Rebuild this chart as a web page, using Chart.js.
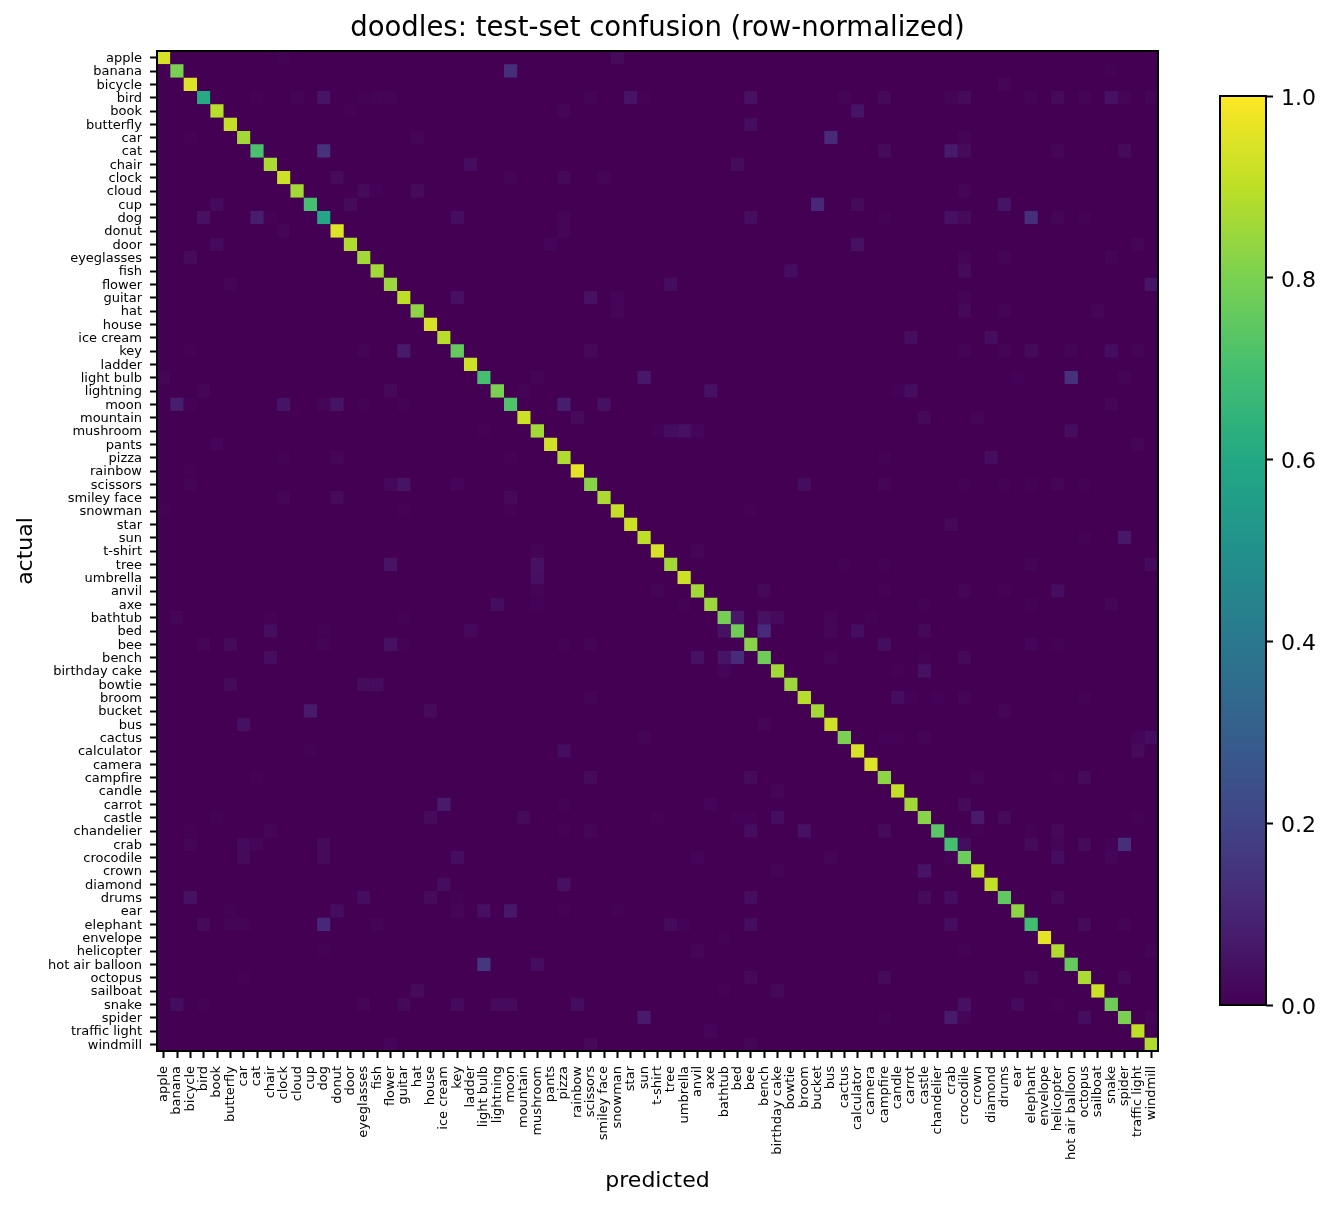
<!DOCTYPE html>
<html>
<head>
<meta charset="utf-8">
<title>doodles confusion</title>
<script src="https://cdn.jsdelivr.net/npm/chart.js@4"></script>
<style>
  html, body { margin: 0; padding: 0; background: #fff; }
  canvas { position: absolute; display: block; }
  #matrix { left: 0; top: 0; }
  #colorbar { left: 1200px; top: 70px; }
</style>
</head>
<body>
<canvas id="matrix" width="1332" height="1208"></canvas>
<canvas id="colorbar" width="132" height="960"></canvas>
<script>
const categories = [
  'apple', 'banana', 'bicycle', 'bird', 'book', 'butterfly', 'car', 'cat', 'chair', 'clock',
  'cloud', 'cup', 'dog', 'donut', 'door', 'eyeglasses', 'fish', 'flower', 'guitar', 'hat',
  'house', 'ice cream', 'key', 'ladder', 'light bulb', 'lightning', 'moon', 'mountain', 'mushroom', 'pants',
  'pizza', 'rainbow', 'scissors', 'smiley face', 'snowman', 'star', 'sun', 't-shirt', 'tree', 'umbrella',
  'anvil', 'axe', 'bathtub', 'bed', 'bee', 'bench', 'birthday cake', 'bowtie', 'broom', 'bucket',
  'bus', 'cactus', 'calculator', 'camera', 'campfire', 'candle', 'carrot', 'castle', 'chandelier', 'crab',
  'crocodile', 'crown', 'diamond', 'drums', 'ear', 'elephant', 'envelope', 'helicopter', 'hot air balloon', 'octopus',
  'sailboat', 'snake', 'spider', 'traffic light', 'windmill',
];

// share of each class predicted correctly, same order as categories
const diagonal = [
  0.94, 0.80, 0.95, 0.61, 0.89, 0.91, 0.86, 0.71, 0.87, 0.92,
  0.86, 0.70, 0.59, 0.95, 0.88, 0.86, 0.86, 0.85, 0.90, 0.83,
  0.94, 0.89, 0.76, 0.92, 0.70, 0.80, 0.72, 0.92, 0.86, 0.93,
  0.88, 0.96, 0.82, 0.87, 0.91, 0.92, 0.90, 0.94, 0.86, 0.92,
  0.86, 0.85, 0.79, 0.78, 0.82, 0.78, 0.86, 0.85, 0.89, 0.86,
  0.93, 0.80, 0.94, 0.95, 0.83, 0.91, 0.86, 0.82, 0.74, 0.70,
  0.77, 0.90, 0.91, 0.75, 0.83, 0.69, 0.96, 0.88, 0.76, 0.87,
  0.92, 0.78, 0.80, 0.90, 0.88,
];

// visible mistakes: [actual index, predicted index, share]
const mistakes = [
  [0, 9, .005], [0, 34, .025],
  [1, 26, .13], [1, 71, .005],
  [2, 63, .015],
  [3, 7, .005], [3, 10, .01], [3, 12, .05], [3, 15, .005], [3, 16, .01], [3, 17, .01], [3, 32, .01], [3, 35, .055], [3, 36, .005], [3, 44, .045],
  [3, 51, .01], [3, 54, .02], [3, 59, .01], [3, 60, .025], [3, 65, .01], [3, 67, .025], [3, 69, .01], [3, 71, .045], [3, 72, .015], [3, 74, .01],
  [4, 14, .005], [4, 30, .015], [4, 52, .055],
  [5, 44, .035],
  [6, 2, .005], [6, 19, .015], [6, 50, .12], [6, 60, .01],
  [7, 12, .14], [7, 54, .025], [7, 59, .07], [7, 60, .025], [7, 67, .015], [7, 72, .025],
  [8, 23, .035], [8, 43, .03],
  [9, 13, .025], [9, 26, .01], [9, 30, .02], [9, 33, .015],
  [10, 15, .025], [10, 16, .005], [10, 19, .025], [10, 60, .015],
  [11, 4, .025], [11, 14, .025], [11, 49, .11], [11, 52, .025], [11, 63, .055],
  [12, 3, .045], [12, 7, .08], [12, 8, .005], [12, 22, .035], [12, 30, .015], [12, 44, .035], [12, 54, .005], [12, 59, .045], [12, 60, .025], [12, 65, .13], [12, 67, .015], [12, 69, .005],
  [13, 9, .015], [13, 30, .015],
  [14, 4, .025], [14, 29, .015], [14, 52, .045], [14, 73, .015],
  [15, 2, .025], [15, 60, .015], [15, 63, .01], [15, 71, .01],
  [16, 47, .035], [16, 60, .025],
  [17, 5, .015], [17, 38, .035], [17, 74, .055],
  [18, 22, .04], [18, 32, .045], [18, 34, .015], [18, 60, .01],
  [19, 34, .015], [19, 60, .02], [19, 63, .01], [19, 70, .015],
  [21, 56, .035], [21, 62, .035],
  [22, 2, .005], [22, 15, .01], [22, 18, .07], [22, 32, .02], [22, 60, .01], [22, 63, .01], [22, 65, .025], [22, 68, .01], [22, 71, .035], [22, 73, .01],
  [24, 0, .015], [24, 28, .01], [24, 36, .065], [24, 64, .005], [24, 68, .14], [24, 72, .01],
  [25, 3, .015], [25, 17, .02], [25, 27, .01], [25, 41, .045], [25, 55, .005], [25, 56, .035],
  [26, 1, .08], [26, 2, .005], [26, 9, .055], [26, 12, .015], [26, 13, .055], [26, 15, .005], [26, 18, .005], [26, 30, .08], [26, 33, .045], [26, 71, .015],
  [27, 31, .025], [27, 57, .02], [27, 61, .015],
  [28, 24, .005], [28, 37, .005], [28, 38, .035], [28, 39, .045], [28, 40, .015], [28, 68, .035],
  [29, 4, .015], [29, 73, .015],
  [30, 9, .005], [30, 13, .015], [30, 26, .005], [30, 54, .005], [30, 62, .035],
  [31, 2, .005],
  [32, 2, .01], [32, 17, .02], [32, 18, .05], [32, 22, .015], [32, 48, .035], [32, 54, .015], [32, 60, .005], [32, 63, .005], [32, 65, .005], [32, 67, .015], [32, 69, .005],
  [33, 9, .015], [33, 13, .025], [33, 26, .02],
  [34, 0, .005], [34, 18, .005], [34, 26, .005], [34, 44, .005],
  [35, 59, .02],
  [36, 69, .005], [36, 72, .065],
  [37, 28, .01], [37, 40, .015],
  [38, 17, .05], [38, 28, .045], [38, 51, .005], [38, 54, .005], [38, 65, .01], [38, 74, .025],
  [39, 28, .04],
  [40, 28, .01], [40, 37, .01], [40, 45, .02], [40, 54, .005], [40, 60, .015], [40, 63, .005], [40, 67, .035],
  [41, 25, .035], [41, 28, .005], [41, 39, .005], [41, 57, .005], [41, 65, .005], [41, 71, .015],
  [42, 1, .015], [42, 8, .005], [42, 18, .005], [42, 43, .065], [42, 45, .045], [42, 46, .025], [42, 50, .015], [42, 53, .005],
  [43, 8, .035], [43, 12, .005], [43, 23, .02], [43, 42, .045], [43, 45, .12], [43, 50, .015], [43, 52, .035], [43, 57, .02],
  [44, 3, .015], [44, 5, .025], [44, 12, .01], [44, 17, .045], [44, 18, .005], [44, 30, .005], [44, 32, .01], [44, 54, .035], [44, 65, .015], [44, 67, .005],
  [45, 8, .035], [45, 40, .045], [45, 42, .055], [45, 43, .12], [45, 50, .015], [45, 57, .005], [45, 60, .02],
  [46, 42, .015], [46, 55, .005], [46, 57, .045],
  [47, 5, .025], [47, 15, .03], [47, 16, .03],
  [48, 32, .01], [48, 55, .035], [48, 56, .005], [48, 58, .005], [48, 60, .015], [48, 69, .005],
  [49, 11, .07], [49, 20, .025], [49, 63, .015],
  [50, 6, .045], [50, 45, .015],
  [51, 36, .01], [51, 54, .005], [51, 55, .005], [51, 57, .01], [51, 73, .015], [51, 74, .035],
  [52, 11, .005], [52, 30, .035], [52, 73, .025],
  [54, 7, .005], [54, 32, .025], [54, 44, .025], [54, 61, .015], [54, 67, .005], [54, 69, .025],
  [55, 46, .015],
  [56, 21, .07], [56, 30, .005], [56, 41, .015], [56, 60, .025],
  [57, 4, .005], [57, 20, .025], [57, 27, .025], [57, 37, .005], [57, 43, .005], [57, 44, .005], [57, 46, .035], [57, 61, .07], [57, 63, .025], [57, 73, .005],
  [58, 2, .005], [58, 8, .015], [58, 30, .005], [58, 32, .015], [58, 44, .035], [58, 48, .045], [58, 54, .025], [58, 61, .005], [58, 65, .005], [58, 67, .02],
  [59, 2, .015], [59, 6, .025], [59, 7, .015], [59, 12, .025], [59, 60, .035], [59, 65, .025], [59, 67, .015], [59, 69, .025], [59, 71, .005], [59, 72, .13],
  [60, 6, .025], [60, 12, .025], [60, 22, .035], [60, 40, .015], [60, 50, .015], [60, 59, .005], [60, 67, .035], [60, 71, .015],
  [61, 46, .01], [61, 57, .055],
  [62, 21, .035], [62, 30, .045],
  [63, 2, .045], [63, 15, .035], [63, 20, .025], [63, 22, .005], [63, 44, .035], [63, 57, .025], [63, 59, .035], [63, 67, .025],
  [64, 5, .005], [64, 13, .035], [64, 22, .015], [64, 24, .04], [64, 26, .065], [64, 30, .005], [64, 34, .005],
  [65, 3, .025], [65, 5, .01], [65, 6, .01], [65, 12, .11], [65, 16, .01], [65, 38, .025], [65, 39, .005], [65, 44, .035], [65, 59, .035], [65, 69, .025], [65, 72, .01],
  [66, 42, .005],
  [67, 12, .005], [67, 40, .015], [67, 60, .005], [67, 74, .01],
  [68, 24, .16], [68, 28, .035],
  [69, 6, .005], [69, 44, .02], [69, 54, .025], [69, 65, .025], [69, 72, .02],
  [70, 19, .025], [70, 42, .005], [70, 46, .02],
  [71, 1, .035], [71, 3, .005], [71, 15, .015], [71, 18, .02], [71, 22, .025], [71, 25, .025], [71, 26, .025], [71, 31, .035], [71, 60, .045], [71, 64, .025], [71, 67, .005],
  [72, 36, .07], [72, 54, .005], [72, 59, .07], [72, 60, .015], [72, 69, .035], [72, 74, .01],
  [73, 41, .015],
  [74, 17, .015], [74, 32, .02], [74, 44, .015],
];

const colorbarTicks = [0, 0.2, 0.4, 0.6, 0.8, 1];

const VIRIDIS = ['#440154', '#482475', '#414487', '#355f8d', '#2a788e', '#21918c', '#22a884', '#44bf70', '#7ad151', '#bddf26', '#fde725'];
const INK = '#000000';
const SPINE = 2;

Chart.defaults.font.family = '"DejaVu Sans", sans-serif';
Chart.defaults.color = INK;

function hexToRgb(hex) {
  const n = parseInt(hex.slice(1), 16);
  return [(n >> 16) & 255, (n >> 8) & 255, n & 255];
}

function viridis(value) {
  const t = Math.min(Math.max(value, 0), 1) * (VIRIDIS.length - 1);
  const i = Math.min(Math.floor(t), VIRIDIS.length - 2);
  const a = hexToRgb(VIRIDIS[i]);
  const b = hexToRgb(VIRIDIS[i + 1]);
  const f = t - i;
  const mix = a.map((c, k) => Math.round(c + (b[k] - c) * f));
  return `rgb(${mix[0]},${mix[1]},${mix[2]})`;
}

function buildCells() {
  const size = categories.length;
  const grid = categories.map(() => new Array(size).fill(0));
  categories.forEach((_, i) => { grid[i][i] = diagonal[i]; });
  mistakes.forEach(([row, col, share]) => { grid[row][col] = share; });
  const cells = [];
  categories.forEach((actual, row) => {
    categories.forEach((predicted, col) => {
      cells.push({ x: predicted, y: actual, v: grid[row][col] });
    });
  });
  return cells;
}

// canvas middle baseline sits a bit high for DejaVu, push y labels down
function nudgeLabels(scale, dy) {
  if (scale.nudged) return;
  scale.nudged = true;
  const compute = scale._computeLabelItems.bind(scale);
  scale._computeLabelItems = (area) => {
    const items = compute(area);
    items.forEach((item) => { item.options.translation[1] += dy; });
    return items;
  };
}

// stops adjacent cells from showing white hairlines between them
const plotBackdrop = {
  id: 'plotBackdrop',
  beforeDatasetsDraw(chart) {
    const { ctx, chartArea: a } = chart;
    ctx.save();
    ctx.fillStyle = VIRIDIS[0];
    ctx.fillRect(a.left, a.top, a.right - a.left, a.bottom - a.top);
    ctx.restore();
  },
};

const frame = {
  id: 'frame',
  afterDatasetsDraw(chart) {
    const { ctx, chartArea: a } = chart;
    ctx.save();
    ctx.strokeStyle = INK;
    ctx.lineWidth = SPINE;
    ctx.strokeRect(a.left, a.top, a.right - a.left, a.bottom - a.top);
    ctx.restore();
  },
};

function initMatrix() {
  const ctx = document.getElementById('matrix').getContext('2d');
  new Chart(ctx, {
    type: 'scatter',
    data: {
      datasets: [{
        data: buildCells(),
        pointStyle: 'rect',
        borderWidth: 0,
        pointBorderWidth: 0,
        pointRadius: (c) => c.chart.scales.x.width / categories.length / Math.SQRT2,
        pointHoverRadius: (c) => c.chart.scales.x.width / categories.length / Math.SQRT2,
        pointBackgroundColor: (c) => viridis(c.raw ? c.raw.v : 0),
      }],
    },
    options: {
      responsive: false,
      devicePixelRatio: 1,
      animation: false,
      events: [],
      layout: { padding: { left: 0, right: 174, top: 0, bottom: 0 } },
      plugins: {
        legend: { display: false },
        tooltip: { enabled: false },
        title: {
          display: true,
          text: 'doodles: test-set confusion (row-normalized)',
          fullSize: false,
          color: INK,
          font: { size: 27.5, weight: 'normal' },
          padding: { top: 12, bottom: 6 },
        },
      },
      scales: {
        x: {
          type: 'category',
          labels: categories,
          offset: true,
          afterFit: (scale) => { scale.height = 157; },
          grid: { offset: false, drawOnChartArea: false, drawTicks: true, tickLength: 7, tickWidth: 2, tickColor: INK },
          border: { display: false },
          ticks: { autoSkip: false, minRotation: 90, maxRotation: 90, padding: 8, font: { size: 13 }, color: INK },
          title: { display: true, text: 'predicted', color: INK, font: { size: 22 }, padding: { top: 0, bottom: 14 } },
        },
        y: {
          type: 'category',
          labels: categories,
          offset: true,
          afterFit: (scale) => {
            scale.width = 157;
            nudgeLabels(scale, 1);
          },
          grid: { offset: false, drawOnChartArea: false, drawTicks: true, tickLength: 7, tickWidth: 2, tickColor: INK },
          border: { display: false },
          ticks: { autoSkip: false, padding: 8, font: { size: 13 }, color: INK },
          title: { display: true, text: 'actual', color: INK, font: { size: 22 }, padding: { top: 13, bottom: 0 } },
        },
      },
    },
    plugins: [plotBackdrop, frame],
  });
}

function colorbarFill(context) {
  const { ctx, chartArea: a } = context.chart;
  if (!a) return VIRIDIS[0];
  const gradient = ctx.createLinearGradient(0, a.bottom, 0, a.top);
  VIRIDIS.forEach((color, i) => gradient.addColorStop(i / (VIRIDIS.length - 1), color));
  return gradient;
}

function initColorbar() {
  const ctx = document.getElementById('colorbar').getContext('2d');
  new Chart(ctx, {
    type: 'bar',
    data: {
      labels: ['share'],
      datasets: [{
        data: [[colorbarTicks[0], colorbarTicks[colorbarTicks.length - 1]]],
        backgroundColor: colorbarFill,
        borderWidth: 0,
        barPercentage: 1,
        categoryPercentage: 1,
      }],
    },
    options: {
      responsive: false,
      devicePixelRatio: 1,
      animation: false,
      events: [],
      layout: { padding: { left: 20, right: 0, top: 26, bottom: 25 } },
      plugins: { legend: { display: false }, tooltip: { enabled: false } },
      scales: {
        x: { display: false },
        y: {
          position: 'right',
          min: 0,
          max: 1,
          afterFit: (scale) => {
            scale.width = 66;
            nudgeLabels(scale, 3);
          },
          afterBuildTicks: (scale) => { scale.ticks = colorbarTicks.map((value) => ({ value })); },
          grid: { drawOnChartArea: false, drawTicks: true, tickLength: 7, tickWidth: 2, tickColor: INK },
          border: { display: false },
          ticks: { padding: 8, font: { size: 22 }, color: INK, callback: (value) => Number(value).toFixed(1) },
        },
      },
    },
    plugins: [frame],
  });
}

initMatrix();
initColorbar();
</script>
</body>
</html>
